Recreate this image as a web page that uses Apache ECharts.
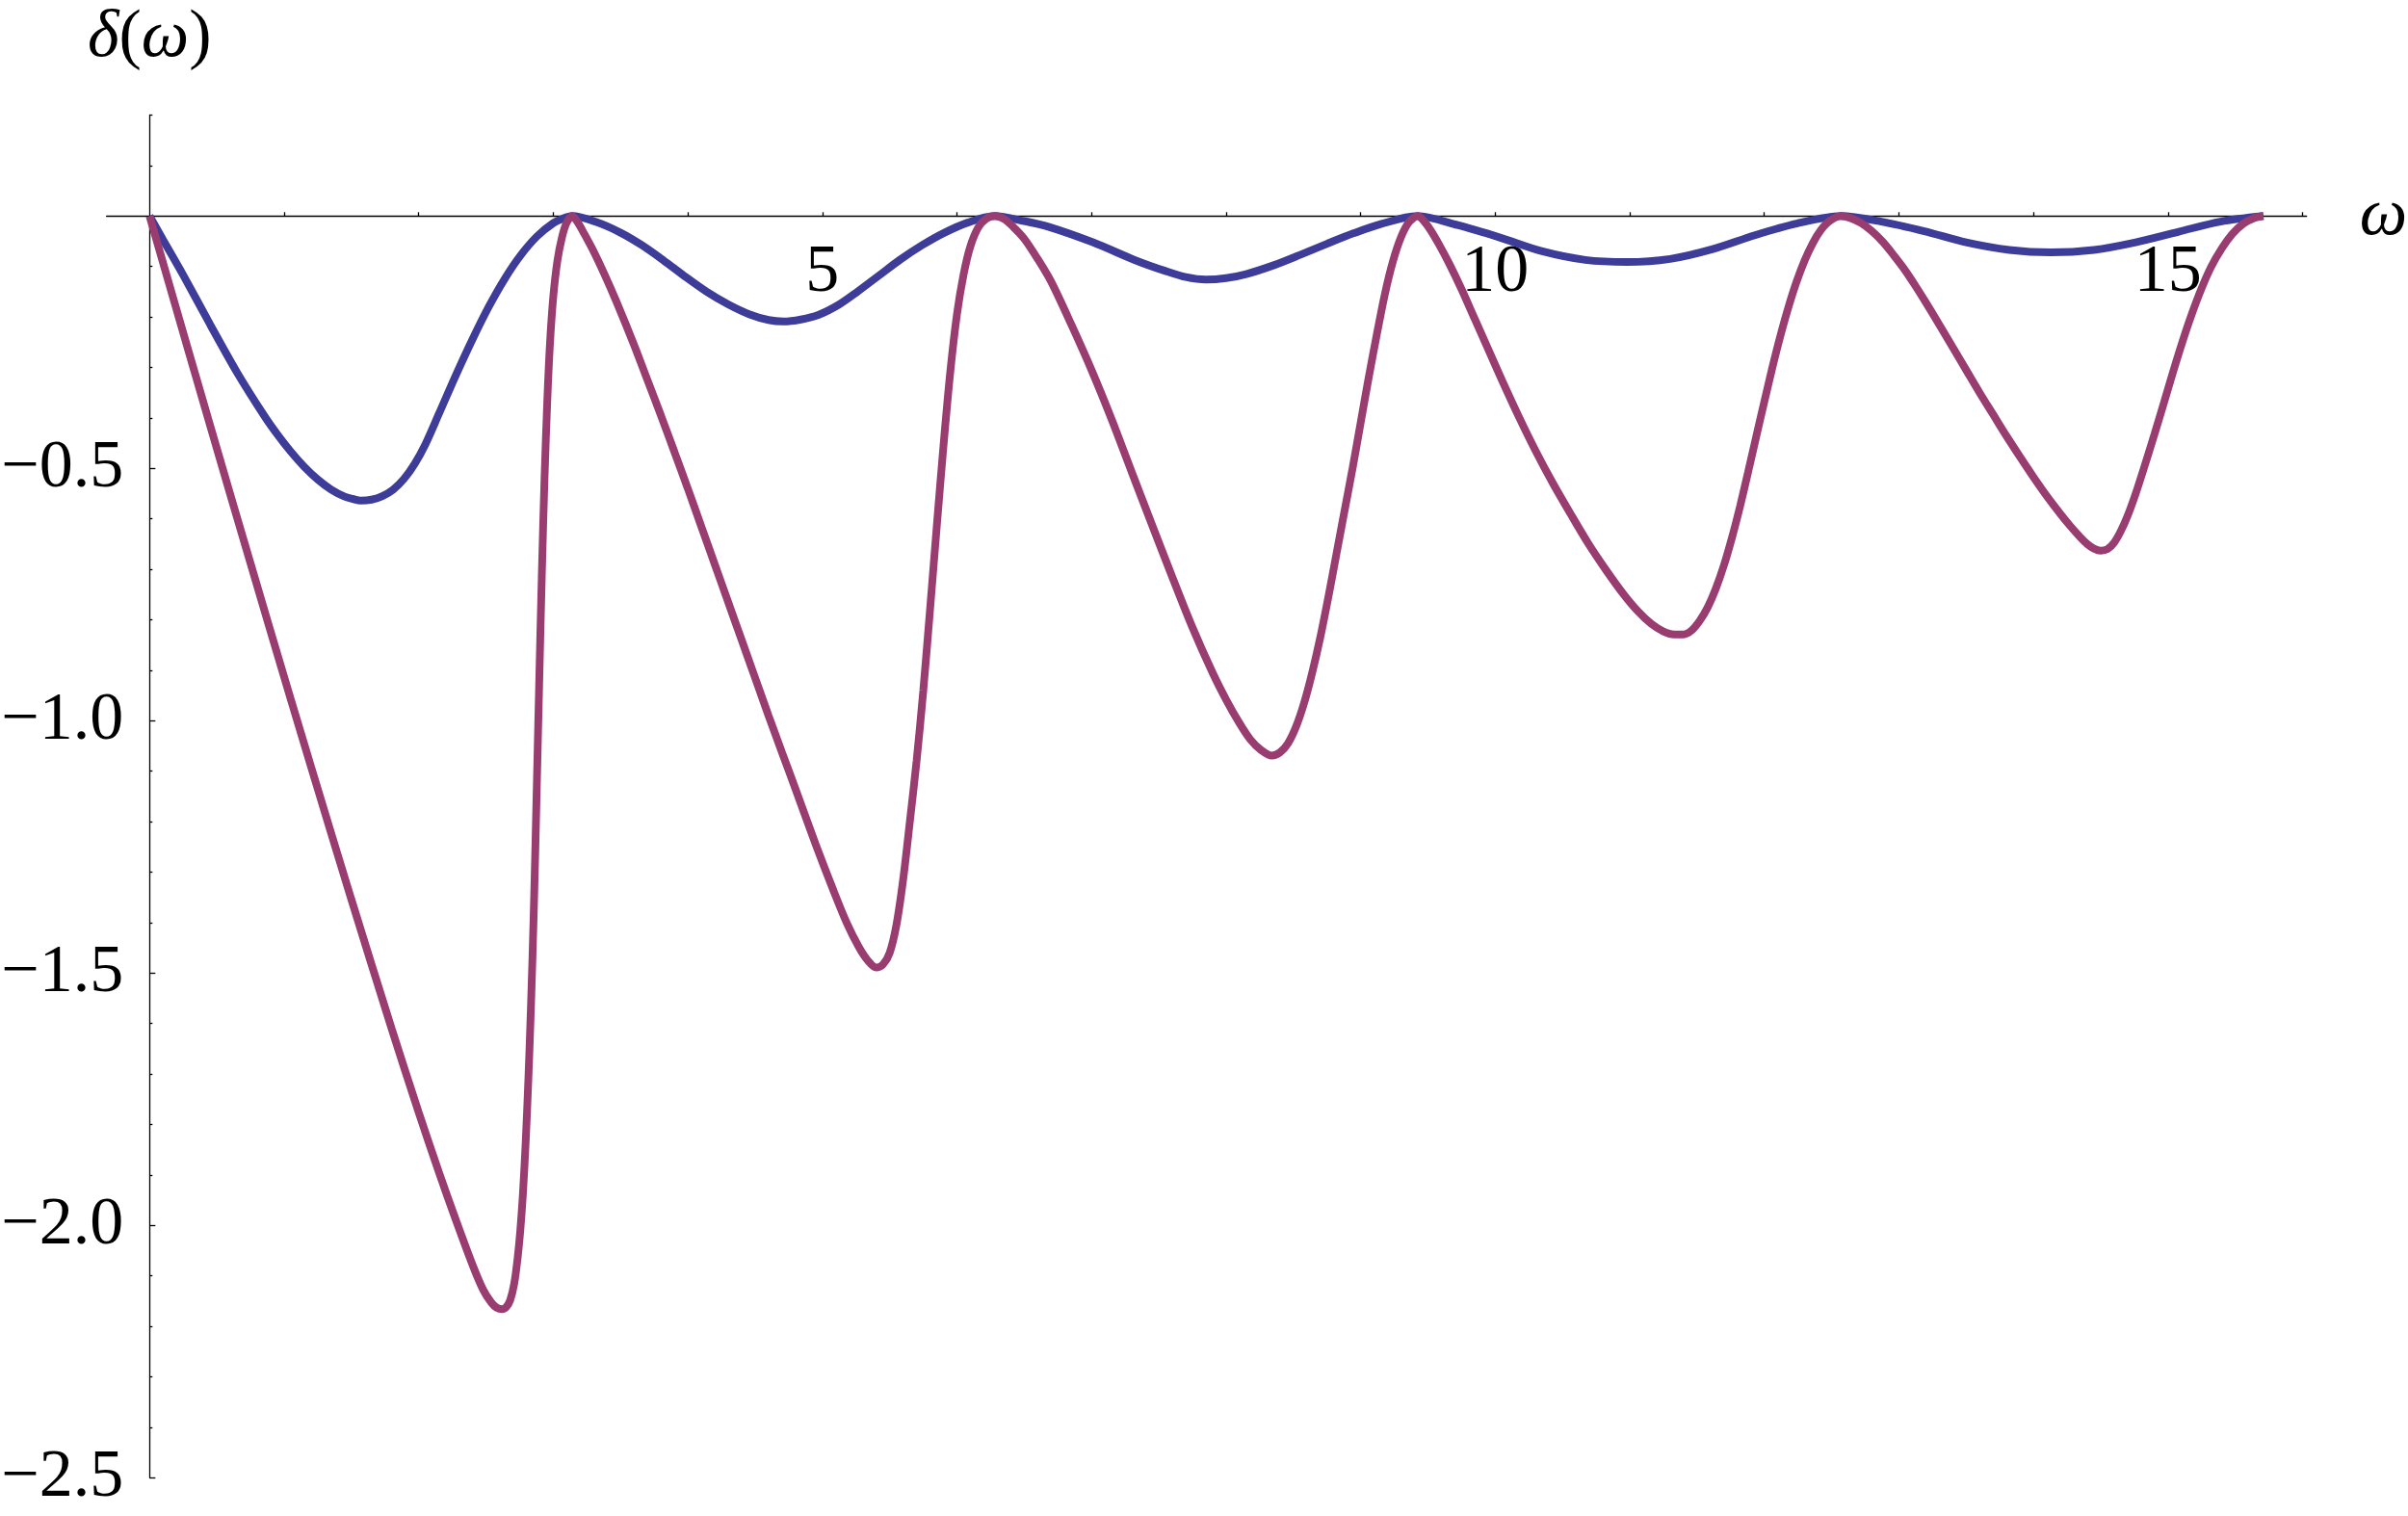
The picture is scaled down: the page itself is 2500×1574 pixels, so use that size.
<!DOCTYPE html>
<html><head><meta charset="utf-8">
<script src="https://cdn.jsdelivr.net/npm/echarts@6/dist/echarts.min.js"></script>
<style>html,body{margin:0;padding:0;background:#fff}#c{width:2500px;height:1574px}</style>
</head><body><div id="c"></div>
<script>
// ---- data ----
const blueOmega = [0,0.1,0.25,0.45,0.65,0.85,0.95,1.05,1.15,1.25,1.35,1.45,1.51,1.57,1.65,1.73,1.81,1.89,1.97,2.05,2.15,2.28,2.40,2.52,2.64,2.76,2.88,3.00,3.07,3.14,
  3.32,3.50,3.66,3.82,3.98,4.14,4.30,4.46,4.60,4.71,4.84,4.97,5.12,5.26,5.42,5.58,5.74,5.90,6.08,6.28,
  6.50,6.69,7.01,7.33,7.55,7.70,7.85,8.00,8.15,8.36,8.55,8.75,8.95,9.15,9.42,
  9.72,10.04,10.35,10.67,10.98,11.30,11.61,11.93,12.24,12.57,
  12.87,13.19,13.50,13.82,14.13,14.45,14.76,15.08,15.39,15.71];
const blueDelta = [0,-0.047,-0.117,-0.215,-0.31,-0.395,-0.433,-0.467,-0.497,-0.522,-0.542,-0.556,-0.5605,-0.564,-0.562,-0.555,-0.542,-0.521,-0.491,-0.452,-0.392,-0.313,-0.244,-0.18,-0.124,-0.077,-0.040,-0.014,-0.005,0,
  -0.012,-0.033,-0.058,-0.088,-0.120,-0.150,-0.175,-0.195,-0.206,-0.209,-0.205,-0.196,-0.176,-0.150,-0.118,-0.086,-0.058,-0.034,-0.013,0,
  -0.010,-0.022,-0.052,-0.088,-0.109,-0.121,-0.126,-0.123,-0.115,-0.097,-0.077,-0.055,-0.034,-0.016,0,
  -0.018,-0.043,-0.070,-0.087,-0.091,-0.085,-0.066,-0.038,-0.015,0,
  -0.011,-0.030,-0.052,-0.067,-0.072,-0.067,-0.052,-0.031,-0.011,0];
const purpleOmega = [
  0,0.3,0.6,0.9,1.2,1.5,1.8,2.0,2.15,2.28,2.40,2.48,2.54,2.58,2.62,2.65,2.68,2.71,2.735,2.755,2.775,2.795,2.815,2.835,2.855,2.875,2.895,2.915,2.935,2.955,2.975,3.00,3.03,3.065,3.10,3.1416,
  3.18,3.23,3.30,3.38,3.47,3.60,3.70,3.80,3.90,4.00,4.10,4.20,4.30,4.40,4.50,4.60,4.70,4.80,4.95,5.08,5.18,5.27,5.34,5.40,5.45,5.50,5.55,5.60,5.65,5.70,5.75,5.80,5.85,5.90,5.95,6.00,6.05,6.10,6.16,6.22,6.283,
  6.35,6.42,6.50,6.60,6.70,6.85,7.00,7.15,7.30,7.45,7.60,7.75,7.90,8.00,8.10,8.18,8.26,8.34,8.40,8.46,8.52,8.58,8.64,8.70,8.76,8.82,8.88,8.94,9.00,9.06,9.12,9.18,9.24,9.30,9.36,9.425,
  9.47,9.52,9.58,9.66,9.75,9.85,9.95,10.05,10.18,10.30,10.43,10.56,10.69,10.82,10.95,11.06,11.16,11.25,11.33,11.40,11.46,11.52,11.58,11.64,11.70,11.76,11.82,11.88,11.94,12.00,12.06,12.12,12.18,12.24,12.30,12.36,12.42,12.48,12.566,
  12.64,12.72,12.80,12.88,12.96,13.04,13.12,13.20,13.30,13.40,13.50,13.60,13.70,13.80,13.90,14.00,14.10,14.20,14.27,14.34,14.40,14.45,14.50,14.55,14.60,14.65,14.70,14.76,14.83,14.90,14.97,15.04,15.11,15.18,15.25,15.32,15.40,15.48,15.56,15.64,15.708];
const purpleDelta = [
  0,-0.2775,-0.552,-0.8235,-1.0914,-1.3545,-1.611,-1.776,-1.8945,-1.992,-2.078,-2.128,-2.153,-2.163,-2.166,-2.162,-2.148,-2.115,-2.065,-2.01,-1.935,-1.835,-1.71,-1.56,-1.38,-1.16,-0.93,-0.71,-0.52,-0.37,-0.255,-0.16,-0.09,-0.042,-0.013,0,
  -0.012,-0.035,-0.07,-0.115,-0.17,-0.255,-0.325,-0.395,-0.467,-0.54,-0.615,-0.69,-0.765,-0.84,-0.915,-0.99,-1.063,-1.135,-1.245,-1.335,-1.40,-1.448,-1.476,-1.489,-1.483,-1.46,-1.405,-1.315,-1.20,-1.08,-0.94,-0.78,-0.615,-0.455,-0.31,-0.195,-0.115,-0.06,-0.022,-0.005,0,
  -0.006,-0.022,-0.045,-0.085,-0.13,-0.215,-0.305,-0.403,-0.508,-0.612,-0.715,-0.815,-0.905,-0.958,-1.005,-1.037,-1.058,-1.069,-1.063,-1.045,-1.012,-0.965,-0.905,-0.835,-0.755,-0.67,-0.585,-0.5,-0.41,-0.32,-0.235,-0.155,-0.09,-0.042,-0.012,0,
  -0.01,-0.028,-0.055,-0.095,-0.145,-0.205,-0.265,-0.325,-0.40,-0.465,-0.53,-0.59,-0.648,-0.70,-0.748,-0.783,-0.808,-0.823,-0.829,-0.829,-0.821,-0.802,-0.775,-0.738,-0.692,-0.637,-0.575,-0.507,-0.437,-0.368,-0.30,-0.237,-0.18,-0.13,-0.088,-0.054,-0.028,-0.011,0,
  -0.004,-0.014,-0.03,-0.051,-0.077,-0.105,-0.137,-0.171,-0.215,-0.26,-0.305,-0.35,-0.393,-0.436,-0.477,-0.517,-0.555,-0.59,-0.613,-0.634,-0.65,-0.659,-0.663,-0.66,-0.647,-0.624,-0.594,-0.55,-0.492,-0.432,-0.37,-0.307,-0.247,-0.192,-0.143,-0.101,-0.064,-0.035,-0.015,-0.004,0];
const xTickValues = [1,2,3,4,5,6,7,8,9,10,11,12,13,14,15,16];
const xTickLabels = [5,10,15];
const yMajorTicks = [-2.5,-2.0,-1.5,-1.0,-0.5];
const yMinorTicks = [-2.4,-2.3,-2.2,-2.1,-1.9,-1.8,-1.7,-1.6,-1.4,-1.3,-1.2,-1.1,-0.9,-0.8,-0.7,-0.6,-0.4,-0.3,-0.2,-0.1,0.1,0.2];

const zip = (a, b) => a.map((v, i) => [v, b[i]]);
const FONT = '"Liberation Serif", "DejaVu Serif", serif';
const axisColor = '#000';

// axis ranges and plot box
const xMin = -0.32, xMax = 16.03, yMin = -2.5, yMax = 0.2;
const W = 2500, H = 1574;
const G = {left: 110.6, right: 105.3, top: 119.5, bottom: 39.7};
const gridW = W - G.left - G.right, gridH = H - G.top - G.bottom;
// axes cross at the origin: shift the axes from the plot edges to the zero lines
const xAxisShift = gridH * (yMax - 0) / (yMax - yMin);
const yAxisShift = gridW * (0 - xMin) / (xMax - xMin);

const chart = echarts.init(document.getElementById('c'), null, {renderer: 'canvas'});
chart.setOption({
  animation: false,
  backgroundColor: '#ffffff',
  grid: Object.assign({containLabel: false, outerBoundsMode: 'none'}, G),
  xAxis: {
    type: 'value', min: xMin, max: xMax, position: 'top', offset: -xAxisShift,
    name: 'ω', nameLocation: 'end', nameGap: 55,
    nameTextStyle: {fontFamily: FONT, fontStyle: 'italic', fontSize: 70, color: '#000', align: 'left', verticalAlign: 'middle', padding: [10, 0, 0, 0]},
    axisLine: {show: true, onZero: false, lineStyle: {color: axisColor, width: 1.3}},
    axisTick: {show: true, inside: false, length: 4, customValues: xTickValues, lineStyle: {color: axisColor, width: 1.3}},
    axisLabel: {show: true, inside: true, customValues: xTickLabels, margin: 24, fontFamily: FONT, fontSize: 70, color: '#000'},
    splitLine: {show: false}
  },
  yAxis: [{
    type: 'value', min: yMin, max: yMax, position: 'left', offset: -yAxisShift,
    name: '{i|δ}{r|(}{i|ω}{r|)}', nameLocation: 'end', nameGap: 45,
    nameTextStyle: {align: 'center', verticalAlign: 'bottom', rich: {
      i: {fontFamily: FONT, fontStyle: 'italic', fontSize: 70, color: '#000'},
      r: {fontFamily: FONT, fontSize: 70, color: '#000'}
    }},
    axisLine: {show: true, onZero: false, lineStyle: {color: axisColor, width: 1.3}},
    axisTick: {show: true, inside: true, length: 6, customValues: yMajorTicks, lineStyle: {color: axisColor, width: 1.3}},
    axisLabel: {show: true, customValues: yMajorTicks, margin: 27, fontFamily: FONT, fontSize: 70, color: '#000',
      formatter: v => '\u2212' + Math.abs(v).toFixed(1)},
    splitLine: {show: false}
  }, {
    type: 'value', min: yMin, max: yMax, position: 'left', offset: -yAxisShift,
    axisLine: {show: false, onZero: false},
    axisTick: {show: true, inside: true, length: 3, customValues: yMinorTicks, lineStyle: {color: axisColor, width: 1.3}},
    axisLabel: {show: false},
    splitLine: {show: false}
  }],
  series: [{
    type: 'line', data: zip(blueOmega, blueDelta), showSymbol: false, symbol: 'none',
    smooth: 0.3, clip: false,
    lineStyle: {color: '#3d3d99', width: 8}, z: 2
  }, {
    type: 'line', data: zip(purpleOmega, purpleDelta), showSymbol: false, symbol: 'none',
    smooth: 0.3, clip: false,
    lineStyle: {color: '#993d71', width: 8}, z: 3
  }]
});
</script></body></html>
